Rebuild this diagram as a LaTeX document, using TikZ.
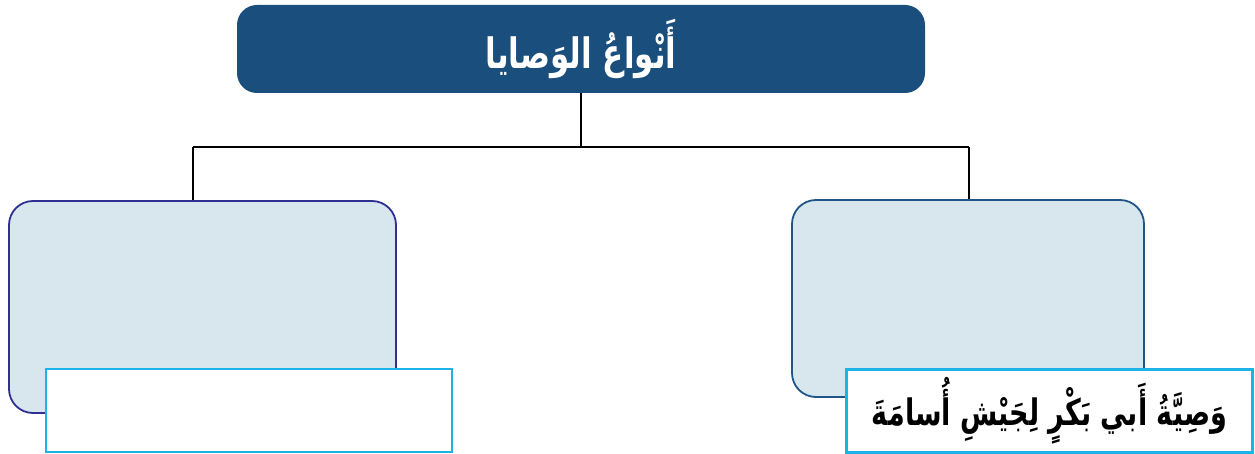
\documentclass[tikz,border=0pt]{standalone}
\usepackage{fontspec}
\usepackage{graphicx}
\TeXXeTstate=1
\newfontfamily\arabicfont[Script=Arabic]{DejaVu Sans}
\definecolor{topblue}{HTML}{1A4E7C}
\definecolor{lightfill}{HTML}{D8E6EE}
\definecolor{leftborder}{HTML}{2E3192}
\definecolor{rightborder}{HTML}{1F5687}
\definecolor{cyanb}{HTML}{1BB3E8}
\newcommand{\tallar}[1]{\scalebox{1}[1.35]{#1}}
\tikzset{
  x=1pt,y=-1pt,
  titlebox/.style={draw=none,fill=topblue,rounded corners=20pt,minimum width=688pt,minimum height=88pt,inner sep=0pt,text=white,font=\arabicfont\bfseries\fontsize{31}{36}\selectfont},
  catbox/.style={fill=lightfill,line width=1.8pt,rounded corners=24pt,inner sep=0pt},
  labelbox/.style={draw=cyanb,fill=white,line width=2.6pt,inner sep=0pt,minimum width=406pt,minimum height=83pt,font=\arabicfont\bfseries\fontsize{27}{32}\selectfont},
  conn/.style={draw=black,line width=1.6pt}
}
\begin{document}
\begin{tikzpicture}
\useasboundingbox (0,0) rectangle (1255,454);
\node[titlebox] (title) at (581,49) {\tallar{\beginR أَنْواعُ الوَصايا\endR}};
\node[catbox,draw=leftborder,minimum width=387pt,minimum height=212pt] (left) at (202.5,307) {};
\node[catbox,draw=rightborder,minimum width=352pt,minimum height=197pt] (right) at (968,298.5) {};
\coordinate (mid) at (581,147);
\coordinate (lt) at (193,147);
\coordinate (rt) at (969,147);
\draw[conn] (title.south) -- (mid);
\draw[conn] (lt) -- (rt);
\draw[conn] (lt) -- (lt |- left.north);
\draw[conn] (rt) -- (rt |- right.north);
\node[labelbox] (leftlabel) at (249,410.5) {};
\node[labelbox] (rightlabel) at (1049.5,411) {\tallar{\beginR وَصِيَّةُ أَبي بَكْرٍ لِجَيْشِ أُسامَةَ\endR}};
\end{tikzpicture}
\end{document}
